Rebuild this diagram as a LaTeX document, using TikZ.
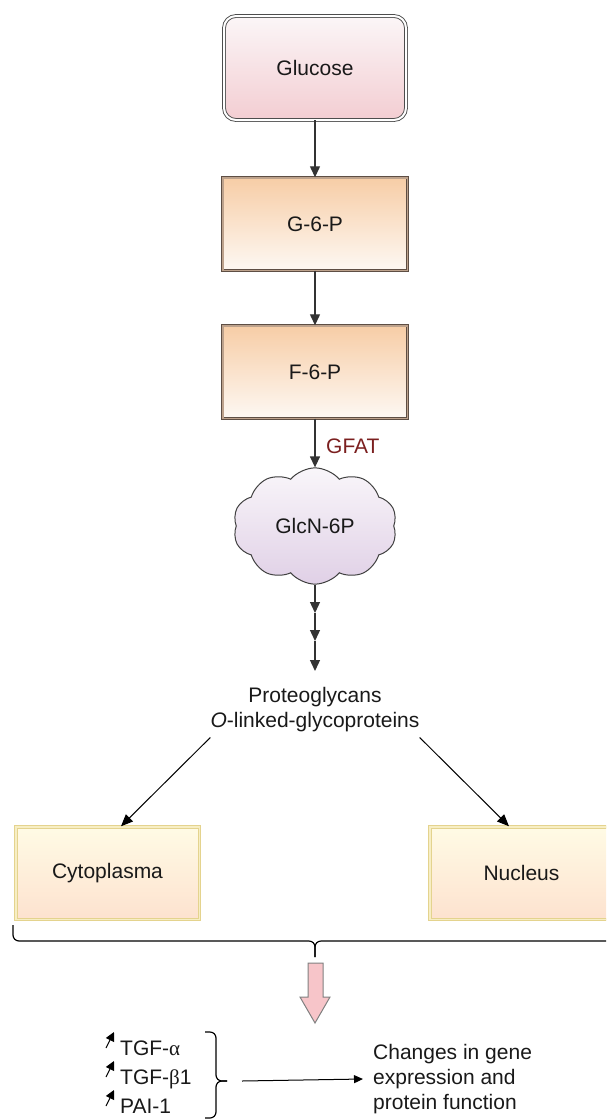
\documentclass[tikz,border=0pt]{standalone}
\usepackage{fontspec}
\setmainfont{Liberation Sans}
\newfontfamily\grkfont{Liberation Serif}
\usetikzlibrary{arrows.meta,shapes.symbols}

\definecolor{glctop}{HTML}{FBF6F7}
\definecolor{glcbot}{HTML}{F3CDD2}
\definecolor{glcdraw}{HTML}{4D4D4D}
\definecolor{ptop}{HTML}{F7CDA6}
\definecolor{pbot}{HTML}{FDF8F3}
\definecolor{pdraw}{HTML}{5E4E44}
\definecolor{pband}{HTML}{BDA28C}
\definecolor{cloudtop}{HTML}{F9F6FA}
\definecolor{cloudbot}{HTML}{E0D0E6}
\definecolor{comptop}{HTML}{FFFBE5}
\definecolor{compbot}{HTML}{FDE2CF}
\definecolor{compdraw}{HTML}{E4D38E}
\definecolor{compband}{HTML}{F7EEC4}
\definecolor{gfatred}{HTML}{7B1F1F}
\definecolor{pinkfill}{HTML}{F7C5C9}

\begin{document}
\begin{tikzpicture}[
    x = 1pt,
    y = -1pt,
    txt/.style = {font=\fontsize{21}{25}\selectfont, text=black!90, inner sep=0pt},
    sugar/.style = {txt, draw=glcdraw, double=white, double distance=2pt,
      line width=0.9pt, rounded corners=12pt, minimum width=182pt,
      minimum height=104pt, top color=glctop, bottom color=glcbot},
    pbox/.style = {txt, draw=pdraw, double=pband, double distance=1.5pt,
      line width=0.9pt, minimum width=184.5pt, minimum height=92.5pt,
      top color=ptop, bottom color=pbot},
    glcn/.style = {txt, cloud, cloud puffs=10, cloud puff arc=100, aspect=1.6,
      inner xsep=16pt, inner ysep=10pt, draw=black!75, line width=1pt,
      top color=cloudtop, bottom color=cloudbot},
    comp/.style = {txt, draw=compdraw, double=compband, double distance=1.5pt,
      line width=1pt, minimum width=183.5pt, minimum height=92.5pt,
      top color=comptop, bottom color=compbot},
    arr/.style = {-{Triangle[width=10pt, length=11pt]}, line width=1.3pt, draw=black!80},
    diag/.style = {-{Triangle[width=10pt, length=12pt]}, line width=1pt},
    thinarr/.style = {-{Triangle[width=8pt, length=9pt]}, line width=1pt},
    upmark/.style = {-{Triangle[width=9pt, length=9pt]}, line width=1pt},
    brc/.style = {line width=1.2pt, rounded corners=6pt},
    ]
    \clip (0,0) rectangle (606,1119);
    % pathway
    \node[sugar] (glc) at (315,68) {Glucose};
    \node[pbox] (g6p) at (315,224) {G-6-P};
    \node[pbox] (f6p) at (315,372) {F-6-P};
    \node[glcn] (glcn) at (315,526) {GlcN-6P};
    \node[txt, text=gfatred, anchor=base west] (gfat) at (326,453) {GFAT};
    \draw[arr] (glc.south) -- (g6p.north);
    \draw[arr] (g6p.south) -- (f6p.north);
    \draw[arr] (f6p.south) -- (glcn.north);
    % chained steps
    \coordinate (c1) at (315,613);
    \coordinate (c2) at (315,641);
    \coordinate (c3) at (315,671);
    \draw[arr] (glcn.south) -- (c1);
    \draw[arr] (c1) -- (c2);
    \draw[arr] (c2) -- (c3);
    \node[txt, align=center] (prot) at (315,710)
    {Proteoglycans\\\textit{O}-linked-glycoproteins};
    % compartments
    \node[comp] (cyto) at (107.5,873) {Cytoplasma};
    \node[comp] (nuc) at (521.5,873) {Nucleus};
    \draw[diag] ([yshift=-5pt]prot.south west) -- ([xshift=13.5pt]cyto.north);
    \draw[diag] ([yshift=-5pt]prot.south east) -- ([xshift=-12.5pt]nuc.north);
    % big brace
    \coordinate (brL) at (13,925);
    \coordinate (brR) at (617,925);
    \coordinate (brM) at (315,941);
    \coordinate (brT) at (315,957);
    \draw[brc] (brL) |- (brM) -- (brT);
    \draw[brc] (brR) |- (brM) -- (brT);
    % block arrow
    \draw[fill=pinkfill, draw=black!50, line width=1pt]
    (308,963) -- (323,963) -- (323,997) -- (330,997) -- (315,1023)
    -- (300,997) -- (308,997) -- cycle;
    % up-regulated factors
    \foreach \n/\t/\y in {tgfa/TGF-{\grkfont α}/1055, tgfb/TGF-{\grkfont β}1/1084, pai/PAI-1/1113}
    {
      \node[txt, anchor=base west] (\n) at (120,\y) {\t};
      \draw[upmark] ([shift={(-14pt,7pt)}]\n.base west) -- ++(8,-16);
    }
    % small brace
    \coordinate (sbT) at (205,1032);
    \coordinate (sbB) at (205,1118);
    \coordinate (sbM) at (216,1081);
    \coordinate (sbTip) at (227,1081);
    \draw[brc] (sbT) -| (sbM) -- (sbTip);
    \draw[brc] (sbB) -| (sbM) -- (sbTip);
    \node[txt, align=left, anchor=west] (chg) at (373,1079)
    {Changes in gene\\expression and\\protein function};
    \draw[thinarr] ([xshift=15pt]sbTip) -- ([xshift=-10pt]chg.west);
\end{tikzpicture}
\end{document}
